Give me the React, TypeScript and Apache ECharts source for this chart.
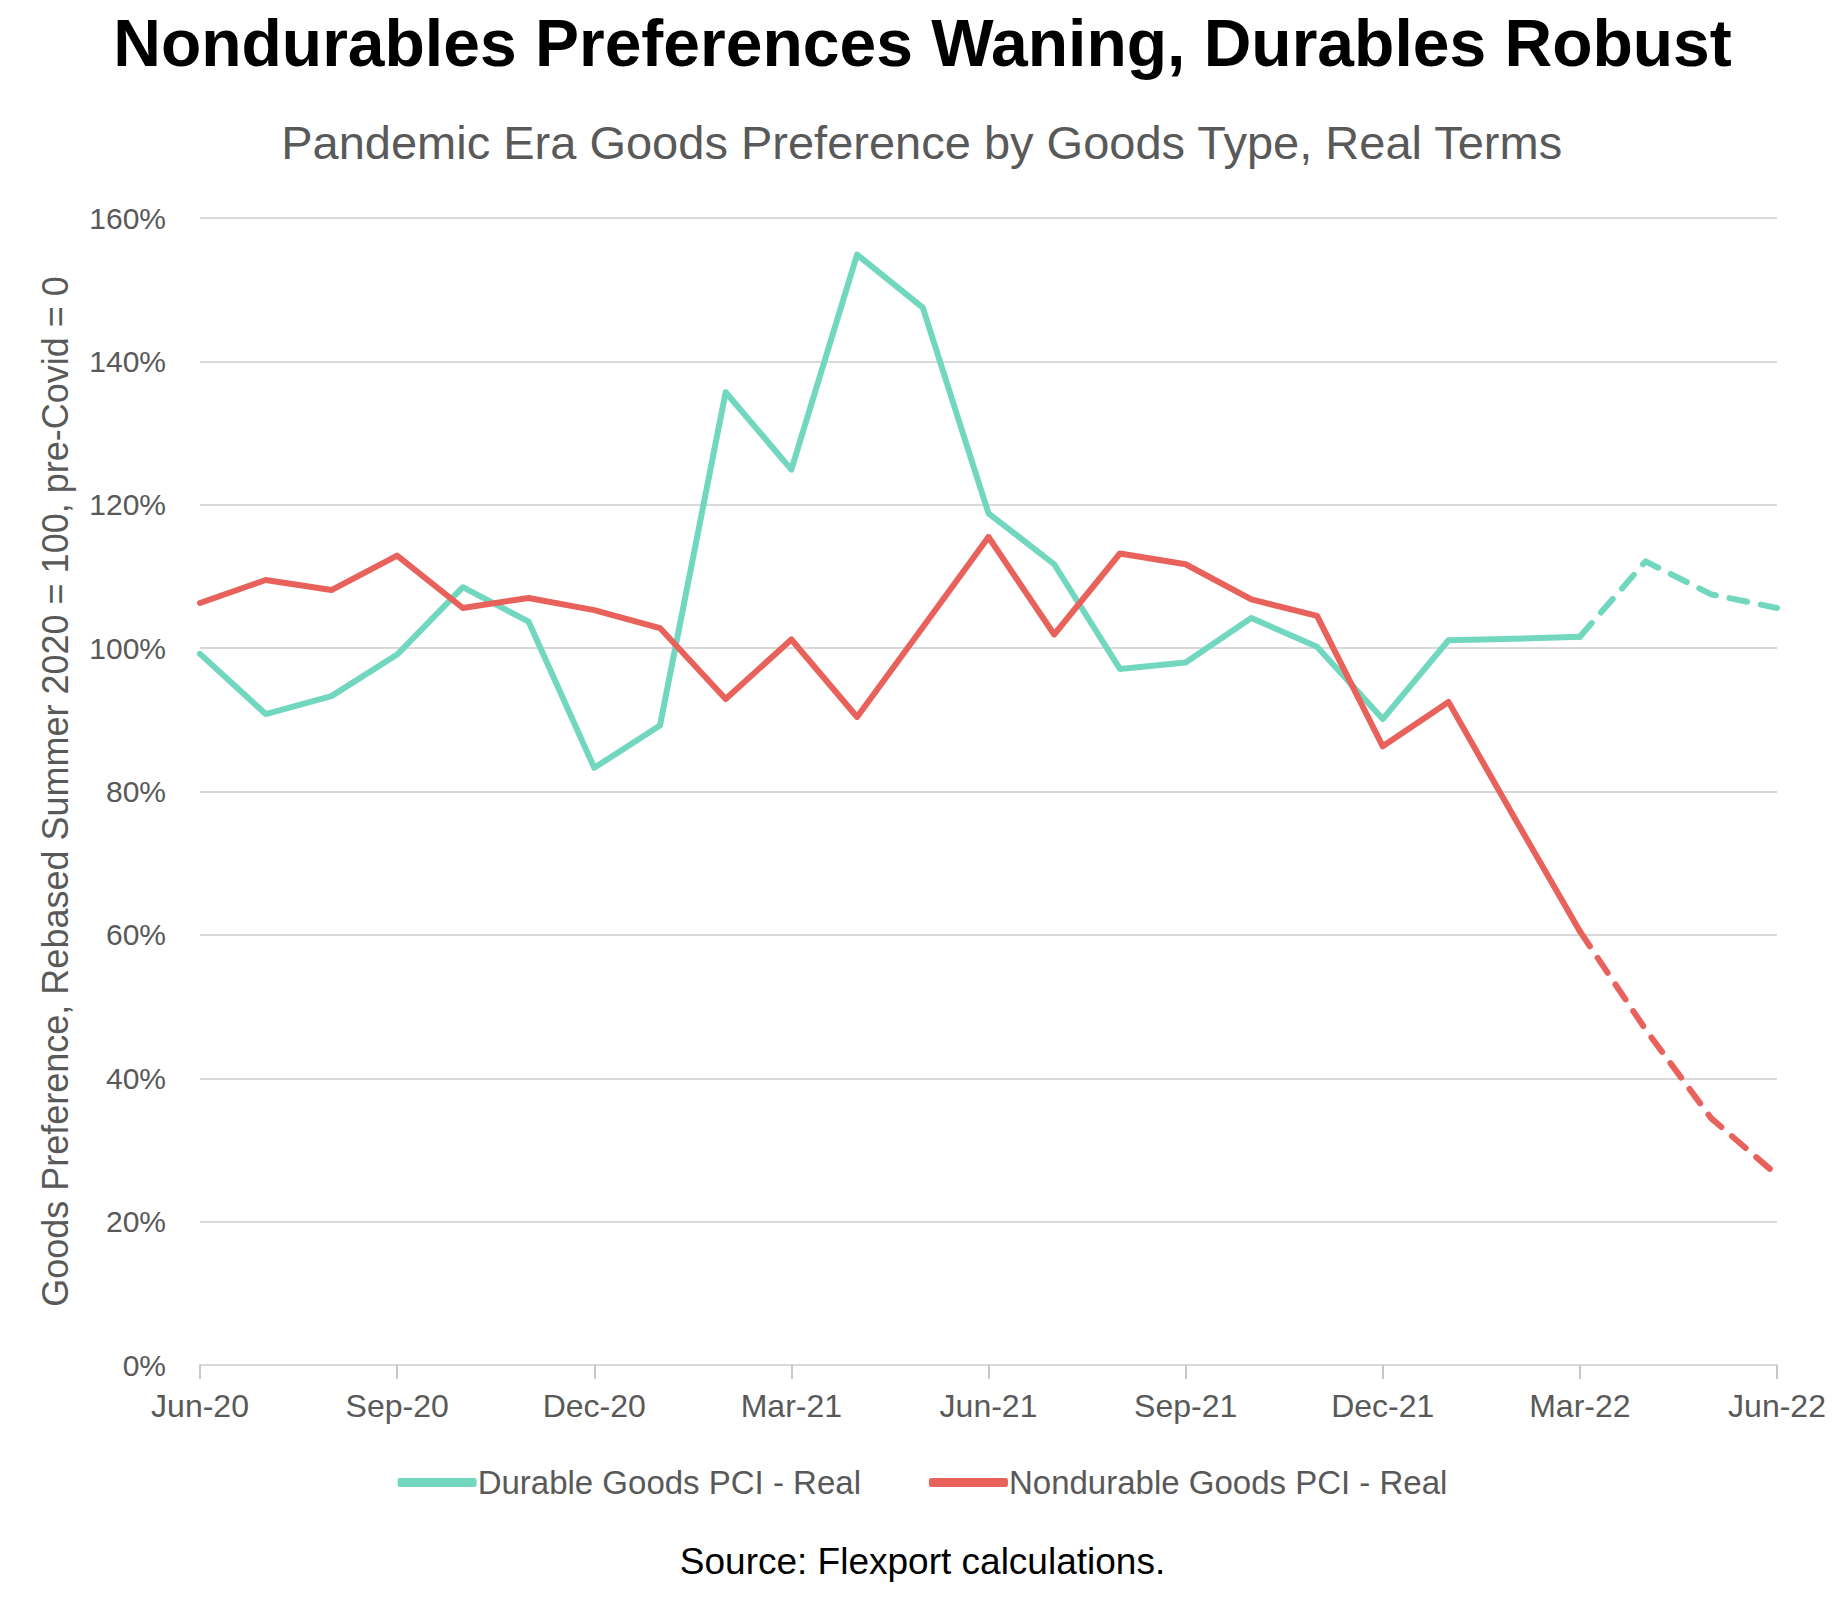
import React, { useEffect, useRef } from "react";
import * as echarts from "echarts";

const months = [
  "Jun-20", "Jul-20", "Aug-20", "Sep-20", "Oct-20", "Nov-20", "Dec-20",
  "Jan-21", "Feb-21", "Mar-21", "Apr-21", "May-21", "Jun-21", "Jul-21",
  "Aug-21", "Sep-21", "Oct-21", "Nov-21", "Dec-21", "Jan-22", "Feb-22",
  "Mar-22", "Apr-22", "May-22", "Jun-22",
];

const durable = [
  99.2, 90.8, 93.3, 99.1, 108.5, 103.7, 83.3, 89.2, 135.7, 124.9, 154.9, 147.5,
  118.8, 111.7, 97.1, 98.0, 104.2, 100.2, 90.1, 101.1, 101.3, 101.6, 112.1, 107.5, 105.6,
];

const nondurable = [
  106.3, 109.5, 108.1, 112.9, 105.6, 107.0, 105.3, 102.8, 92.9, 101.2, 90.4, 102.9,
  115.5, 101.9, 113.2, 111.7, 106.8, 104.5, 86.3, 92.5, 76.4, 60.5, 46.8, 34.4, 26.5,
];

// index where the projected (dashed) part starts
const projectionStart = 21;

const yTicks = { min: 0, max: 160, interval: 20 };

const TITLE = "Nondurables Preferences Waning, Durables Robust";
const SUBTITLE = "Pandemic Era Goods Preference by Goods Type, Real Terms";
const SOURCE = "Source: Flexport calculations.";
const Y_NAME = "Goods Preference, Rebased Summer 2020 = 100, pre-Covid = 0";
const DURABLE_NAME = "Durable Goods PCI - Real";
const NONDURABLE_NAME = "Nondurable Goods PCI - Real";

const TEAL = "#72D7BF";
const RED = "#E8625B";
const FONT = "'Liberation Sans', Arial, sans-serif";

function solidPart(arr: number[]) {
  return arr.map((v, i) => (i <= projectionStart ? v : null));
}
function dashedPart(arr: number[]) {
  return arr.map((v, i) => (i >= projectionStart ? v : null));
}

export default function App() {
  const ref = useRef<HTMLDivElement>(null);

  useEffect(() => {
    if (!ref.current) return;
    const chart = echarts.init(ref.current, null, { renderer: "svg" });
    chart.setOption({
      animation: false,
      backgroundColor: "#ffffff",
      graphic: [
        {
          type: "text",
          left: "center",
          top: 10,
          style: {
            text: TITLE,
            font: `bold 66px ${FONT}`,
            fill: "#000000",
          },
        },
        {
          type: "text",
          left: "center",
          top: 119,
          style: {
            text: SUBTITLE,
            font: `47px ${FONT}`,
            fill: "#595959",
          },
        },
        {
          type: "text",
          left: "center",
          top: 1543,
          style: {
            text: SOURCE,
            font: `37px ${FONT}`,
            fill: "#000000",
          },
        },
      ],
      legend: {
        data: [DURABLE_NAME, NONDURABLE_NAME],
        left: "center",
        top: 1461,
        icon: "roundRect",
        itemWidth: 79,
        itemHeight: 9,
        itemGap: 68,
        textStyle: {
          fontSize: 33,
          color: "#595959",
          fontFamily: FONT,
          padding: [0, 0, 0, -4],
        },
      },
      grid: { left: 200, right: 68, top: 218, bottom: 236, containLabel: false },
      xAxis: {
        type: "category",
        data: months,
        boundaryGap: false,
        axisLine: { lineStyle: { color: "#d9d9d9", width: 2 } },
        axisTick: {
          show: true,
          interval: 2,
          length: 14,
          lineStyle: { color: "#c8c8c8", width: 2 },
        },
        axisLabel: {
          interval: 2,
          margin: 25,
          fontSize: 32,
          color: "#595959",
          fontFamily: FONT,
        },
      },
      yAxis: {
        type: "value",
        min: yTicks.min,
        max: yTicks.max,
        interval: yTicks.interval,
        name: Y_NAME,
        nameLocation: "middle",
        nameGap: 127,
        nameRotate: 90,
        nameTextStyle: { fontSize: 36, color: "#595959", fontFamily: FONT },
        axisLine: { show: false },
        axisTick: { show: false },
        axisLabel: {
          formatter: "{value}%",
          margin: 34,
          fontSize: 30,
          color: "#595959",
          fontFamily: FONT,
        },
        splitLine: { lineStyle: { color: "#d9d9d9", width: 2 } },
      },
      series: [
        {
          name: DURABLE_NAME,
          type: "line",
          data: solidPart(durable),
          showSymbol: false,
          color: TEAL,
          lineStyle: { color: TEAL, width: 6, cap: "round", join: "round" },
        },
        {
          name: NONDURABLE_NAME,
          type: "line",
          data: solidPart(nondurable),
          showSymbol: false,
          color: RED,
          lineStyle: { color: RED, width: 6, cap: "round", join: "round" },
        },
        {
          name: DURABLE_NAME + " (projected)",
          type: "line",
          data: dashedPart(durable),
          showSymbol: false,
          color: TEAL,
          lineStyle: { color: TEAL, width: 6, type: [18, 14], cap: "round", join: "round" },
        },
        {
          name: NONDURABLE_NAME + " (projected)",
          type: "line",
          data: dashedPart(nondurable),
          showSymbol: false,
          color: RED,
          lineStyle: { color: RED, width: 6, type: [18, 14], cap: "round", join: "round" },
        },
      ],
    });
    return () => chart.dispose();
  }, []);

  return (
    <div
      ref={ref}
      style={{ position: "absolute", left: 0, top: 0, width: 1845, height: 1601 }}
    />
  );
}
